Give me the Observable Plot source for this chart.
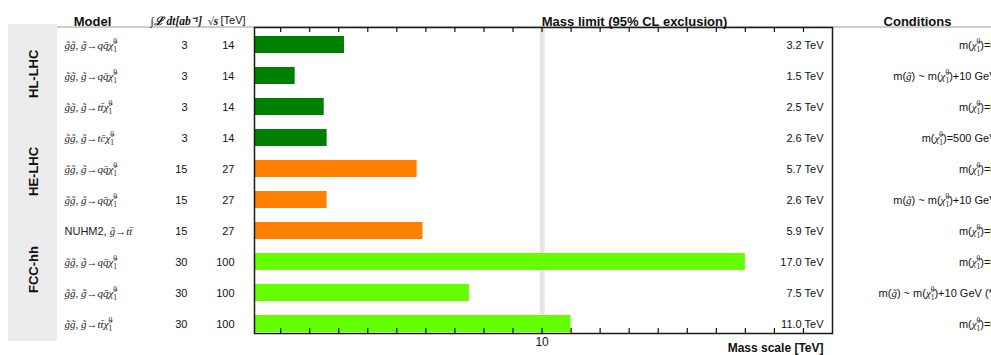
<!DOCTYPE html>
<html><head><meta charset="utf-8">
<script src="https://cdn.jsdelivr.net/npm/d3@7"></script>
<script src="https://cdn.jsdelivr.net/npm/@observablehq/plot@0.6"></script>
<style>
html,body{margin:0;padding:0;background:#fff;overflow:hidden}
#chart svg{overflow:hidden;display:block}
</style>
</head><body><div id="chart"></div>
<script>
// ---- data ----
const rowIds = [0, 1, 2, 3, 4, 5, 6, 7, 8, 9];
const models = [
  "g\u0303g\u0303, g\u0303\u2192qq\u0304\u03C7\u0303\u2081\u2070",
  "g\u0303g\u0303, g\u0303\u2192qq\u0304\u03C7\u0303\u2081\u2070",
  "g\u0303g\u0303, g\u0303\u2192tt\u0304\u03C7\u0303\u2081\u2070",
  "g\u0303g\u0303, g\u0303\u2192tc\u0304\u03C7\u0303\u2081\u2070",
  "g\u0303g\u0303, g\u0303\u2192qq\u0304\u03C7\u0303\u2081\u2070",
  "g\u0303g\u0303, g\u0303\u2192qq\u0304\u03C7\u0303\u2081\u2070",
  "NUHM2, g\u0303\u2192tt\u0304",
  "g\u0303g\u0303, g\u0303\u2192qq\u0304\u03C7\u0303\u2081\u2070",
  "g\u0303g\u0303, g\u0303\u2192qq\u0304\u03C7\u0303\u2081\u2070",
  "g\u0303g\u0303, g\u0303\u2192tt\u0304\u03C7\u0303\u2081\u2070"
];
const lumi = [3, 3, 3, 3, 15, 15, 15, 30, 30, 30];
const energy = [14, 14, 14, 14, 27, 27, 27, 100, 100, 100];
const limits = [3.2, 1.5, 2.5, 2.6, 5.7, 2.6, 5.9, 17.0, 7.5, 11.0];
const limitLabels = ["3.2 TeV", "1.5 TeV", "2.5 TeV", "2.6 TeV", "5.7 TeV", "2.6 TeV", "5.9 TeV", "17.0 TeV", "7.5 TeV", "11.0 TeV"];
const conditions = [
  "m(\u03C7\u0303\u2081\u2070)=0",
  "m(g\u0303) ~ m(\u03C7\u0303\u2081\u2070)+10 GeV",
  "m(\u03C7\u0303\u2081\u2070)=0",
  "m(\u03C7\u0303\u2081\u2070)=500 GeV",
  "m(\u03C7\u0303\u2081\u2070)=0",
  "m(g\u0303) ~ m(\u03C7\u0303\u2081\u2070)+10 GeV",
  "m(\u03C7\u0303\u2081\u2070)=0",
  "m(\u03C7\u0303\u2081\u2070)=0",
  "m(g\u0303) ~ m(\u03C7\u0303\u2081\u2070)+10 GeV (*)",
  "m(\u03C7\u0303\u2081\u2070)=0"
];
const colliders = ["HL-LHC", "HL-LHC", "HL-LHC", "HL-LHC", "HE-LHC", "HE-LHC", "HE-LHC", "FCC-hh", "FCC-hh", "FCC-hh"];
const groupNames = ["HL-LHC", "HE-LHC", "FCC-hh"];
const groupColors = ["#008000", "#ff8000", "#66ff00"];
const xTicks = [1, 2, 3, 4, 5, 6, 7, 8, 9, 10, 11, 12, 13, 14, 15, 16, 17, 18, 19];
const xTickLabels = ["10"];
const xDomain = [0.1, 20];
const headers = {model: "Model", lumi: "\u222B\u2112 dt[ab\u207B\u00B9]", sqrts: "\u221As", sqrtsUnit: "[TeV]",
  limit: "Mass limit (95% CL exclusion)", cond: "Conditions", xLabel: "Mass scale [TeV]"};

const rows = rowIds.map(i => ({id: i, model: models[i], lumi: String(lumi[i]), energy: String(energy[i]),
  limit: limits[i], limitLabel: limitLabels[i], cond: conditions[i], collider: colliders[i]}));

// ---- layout ----
const W = 991, H = 355;
const mL = 254, mR = 159, mT = 27, mB = 22;
const frameH = H - mT - mB;
const tickLen = 5;
const sans = "'Liberation Sans', Arial, Helvetica, sans-serif";
const serif = "'Liberation Serif', 'Times New Roman', serif";

const head = (txt, x, opts = {}) => Plot.text([txt], {text: d => d, frameAnchor: "top-left", dx: x - mL, dy: -11,
  fontSize: 13, fontWeight: "bold", fill: "#111", ...opts});

const groupLabel = (name, rowId, dy) => Plot.text([name], {text: d => d, y: () => rowId, frameAnchor: "left",
  dx: 33 - mL, dy, rotate: -90, fontSize: 13, fontWeight: "bold", fill: "#111"});

const plot = Plot.plot({
  width: W, height: H,
  marginLeft: mL, marginRight: mR, marginTop: mT, marginBottom: mB,
  style: {fontFamily: sans, fontSize: "11px", background: "transparent", color: "#111"},
  x: {type: "linear", domain: xDomain, clamp: true, label: null, axis: null},
  y: {type: "band", domain: rowIds, range: [26.2, 342.2], paddingInner: 0.46, paddingOuter: 0.23, axis: null, label: null},
  color: {domain: groupNames, range: groupColors},
  marks: [
    Plot.ruleX([10], {stroke: "#e6e6e6", strokeWidth: 5}),
    Plot.barX(rows, {x1: xDomain[0], x2: "limit", y: "id", fill: "collider"}),
    Plot.frame({stroke: "#1a1a1a", strokeWidth: 1.5}),
    // inward ticks on the bottom and top of the frame
    Plot.tickX(xTicks, {x: d => d, insetTop: frameH - tickLen, stroke: "#111", strokeWidth: 1.2}),
    Plot.tickX(xTicks, {x: d => d, insetBottom: frameH - tickLen, stroke: "#111", strokeWidth: 1.2}),
    Plot.text(xTickLabels, {x: d => +d, frameAnchor: "bottom", dy: 12, fontSize: 12, fill: "#111"}),
    // table columns
    Plot.text(rows, {y: "id", text: "model", frameAnchor: "left", dx: 64 - mL, textAnchor: "start",
      fontFamily: serif, fontStyle: "italic", fontSize: 11, fill: "#222"}),
    Plot.text(rows, {y: "id", text: "lumi", frameAnchor: "left", dx: 187 - mL, textAnchor: "end", fontSize: 11, fill: "#111"}),
    Plot.text(rows, {y: "id", text: "energy", frameAnchor: "left", dx: 234 - mL, textAnchor: "end", fontSize: 11, fill: "#111"}),
    Plot.text(rows, {y: "id", text: "limitLabel", frameAnchor: "right", dx: -9, textAnchor: "end", fontSize: 11, fill: "#111"}),
    Plot.text(rows, {y: "id", text: "cond", frameAnchor: "right", dx: 996 - (W - mR), textAnchor: "end", fontSize: 11, fill: "#111"}),
    // headers
    head(headers.model, 92, {textAnchor: "middle"}),
    head(headers.lumi, 150, {textAnchor: "start", fontFamily: serif, fontStyle: "italic", fontSize: 11.5}),
    head(headers.sqrts, 207, {textAnchor: "start", fontFamily: serif, fontStyle: "italic", fontSize: 11.5}),
    head(headers.sqrtsUnit, 220, {textAnchor: "start", fontWeight: "normal", fontSize: 11}),
    head(headers.limit, 634, {textAnchor: "middle"}),
    head(headers.cond, 917, {textAnchor: "middle"}),
    Plot.text([headers.xLabel], {text: d => d, frameAnchor: "bottom-right", dx: -9, dy: 18, textAnchor: "end",
      fontSize: 12, fontWeight: "bold", fill: "#111"}),
    // collider group labels
    groupLabel(groupNames[0], 2, -9),
    groupLabel(groupNames[1], 5, -4),
    groupLabel(groupNames[2], 8, 0)
  ]
});

// ---- decorations behind the chart & rich text ----
const svg = d3.select(plot);
svg.insert("line", ":first-child").attr("x1", 57).attr("x2", W).attr("y1", mT).attr("y2", mT)
  .attr("stroke", "#9a9a9a").attr("stroke-width", 1);
svg.insert("rect", ":first-child").attr("x", 8).attr("y", 24).attr("width", 49).attr("height", 317).attr("fill", "#ececec");

const NS = "http://www.w3.org/2000/svg";
const CHI = "\u03C7\u0303\u2081\u2070";
const GT = "g\u0303";
function richify(el, italicBase) {
  const s = el.textContent;
  const parts = s.split(/(\u03C7\u0303\u2081\u2070|g\u0303|NUHM2, )/);
  el.textContent = "";
  let pending = 0;
  const add = (txt, attrs) => {
    const t = document.createElementNS(NS, "tspan");
    t.textContent = txt;
    for (const k in attrs) t.setAttribute(k, attrs[k]);
    if (pending && attrs.dy === undefined) { t.setAttribute("dy", pending); pending = 0; }
    el.appendChild(t);
  };
  const serifIt = {"font-family": serif, "font-style": "italic"};
  for (const p of parts) {
    if (!p) continue;
    if (p === CHI) {
      add("\u03C7\u0303", serifIt);
      add("0", {"font-family": serif, "font-style": "normal", "font-size": 7.5, dy: -4.5});
      add("1", {"font-family": serif, "font-style": "normal", "font-size": 7.5, dx: -3.8, dy: 7.5});
      pending = -3;
    } else if (p === GT) {
      add(GT, serifIt);
    } else if (p === "NUHM2, ") {
      add(p, {"font-family": sans, "font-style": "normal"});
    } else {
      add(p, italicBase ? {} : {"font-family": sans, "font-style": "normal"});
    }
  }
}
svg.selectAll("text").each(function() {
  const s = this.textContent;
  if (models.includes(s)) richify(this, true);
  else if (conditions.includes(s)) richify(this, false);
});

document.getElementById("chart").appendChild(plot);
</script>
</body></html>
